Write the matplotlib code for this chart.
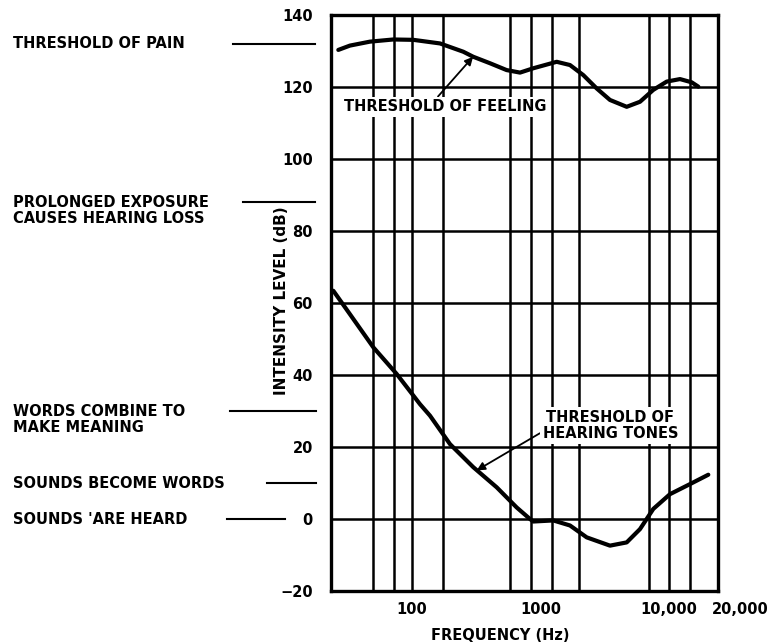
import matplotlib.pyplot as plt
from matplotlib.transforms import blended_transform_factory

# threshold of feeling (top curve)
feel_hz = [26.9, 33.1, 47.4, 71.9, 102.9, 166, 251.8, 301, 406, 547, 695, 881, 1340, 1700,
           2158, 2742, 3478, 4691, 5953, 7551, 9597, 12175, 15013, 16898]
feel_db = [130.3, 131.5, 132.6, 133.2, 133.1, 132.1, 129.8, 128.4, 126.6, 124.7, 124.0, 125.2,
           127.0, 126.1, 123.3, 119.6, 116.4, 114.5, 115.9, 119.2, 121.5, 122.2, 121.3, 120.1]

# threshold of hearing (bottom curve)
hear_hz = [24.6, 33.1, 50.3, 76.4, 116, 138.8, 198.5, 301, 458, 655, 831, 881, 1261, 1700,
           2293, 3478, 4691, 5953, 7551, 10180, 14570, 20210]
hear_db = [63.4, 56.9, 47.7, 40.3, 31.9, 28.7, 20.8, 14.4, 8.8, 3.2, 0.0, -0.7, -0.4, -1.8,
           -5.1, -7.4, -6.5, -2.8, 2.8, 6.9, 9.7, 12.3]

# vertical grid lines as drawn on the chart
grid_hz = [50, 73, 100, 175, 580, 840, 1230, 2000, 7000, 10000, 14500]
xtick_hz = [100, 1000, 10000]
xtick_lbl = ['100', '1000', '10,000']

# side notes
note_db = [132, 88, 30, 10, 0]
note_txt = ['THRESHOLD OF PAIN', 'PROLONGED EXPOSURE\nCAUSES HEARING LOSS',
            'WORDS COMBINE TO\nMAKE MEANING', 'SOUNDS BECOME WORDS', "SOUNDS 'ARE HEARD"]
note_x0 = [233, 243, 230, 267, 227]
note_x1 = [315, 315, 316, 316, 285]

W, H = 771, 644
fs = 10.5
fig = plt.figure(figsize=(W / 100, H / 100), dpi=100)
ax = fig.add_axes([331 / W, 1 - 591 / H, (718 - 331) / W, (591 - 15) / H])

ax.set_xscale('log')
ax.set_xlim(23.6, 24040)
ax.set_ylim(-20, 140)

for f in grid_hz:
    ax.axvline(f, color='black', lw=1.8, zorder=1)
for v in range(-20, 141, 20):
    ax.axhline(v, color='black', lw=1.8, zorder=1)

for xs, ys in [(feel_hz, feel_db), (hear_hz, hear_db)]:
    ax.plot(xs, ys, color='black', lw=3, solid_capstyle='round',
            solid_joinstyle='round', zorder=3)

for s in ax.spines.values():
    s.set_linewidth(2.4)

ax.set_xticks(xtick_hz)
ax.set_xticklabels(xtick_lbl)
ax.minorticks_off()
ax.set_yticks(range(-20, 141, 20))
ax.tick_params(length=0, labelsize=fs)
ax.tick_params(axis='y', pad=13)
ax.tick_params(axis='x', pad=8)
for t in ax.get_xticklabels() + ax.get_yticklabels():
    t.set_fontweight('bold')

fig.text(769 / W, 1 - 610 / H, '20,000', ha='right', va='center',
         fontsize=fs, fontweight='bold')
fig.text(500 / W, 1 - 636 / H, 'FREQUENCY (Hz)', ha='center', va='center',
         fontsize=fs, fontweight='bold')
fig.text(282 / W, 1 - 301 / H, 'INTENSITY LEVEL (dB)', rotation=90, ha='center',
         va='center', fontsize=11, fontweight='bold',
         bbox=dict(facecolor='white', edgecolor='none', pad=1))

trans = blended_transform_factory(fig.transFigure, ax.transData)
for v, txt, x0, x1 in zip(note_db, note_txt, note_x0, note_x1):
    ax.plot([x0 / W, x1 / W], [v, v], color='black', lw=1.5, transform=trans, clip_on=False)
    lines = txt.split('\n')
    ax.text(13 / W, v, lines[0], transform=trans, ha='left', va='center',
            fontsize=fs, fontweight='bold')
    if len(lines) > 1:
        ax.annotate(lines[1], xy=(13 / W, v), xycoords=trans,
                    xytext=(0, -16), textcoords='offset pixels', ha='left', va='center',
                    fontsize=fs, fontweight='bold')

box = dict(facecolor='white', edgecolor='none', pad=2)
ax.annotate('THRESHOLD OF FEELING', xy=(300, 128.4), xytext=(30, 114.5),
            ha='left', va='center', fontsize=fs, fontweight='bold', bbox=box, zorder=4,
            arrowprops=dict(arrowstyle='-|>', color='black', lw=1.3, mutation_scale=12,
                            shrinkA=0, shrinkB=0, relpos=(0.45, 1.0)))
ax.annotate('THRESHOLD OF\nHEARING TONES', xy=(320, 13.5), xytext=(3500, 26),
            ha='center', va='center', fontsize=fs, fontweight='bold', bbox=box, zorder=4,
            linespacing=1.1,
            arrowprops=dict(arrowstyle='-|>', color='black', lw=1.3, mutation_scale=12,
                            shrinkA=0, shrinkB=0, relpos=(0.0, 0.3)))

fig.savefig('out.png', dpi=100)
